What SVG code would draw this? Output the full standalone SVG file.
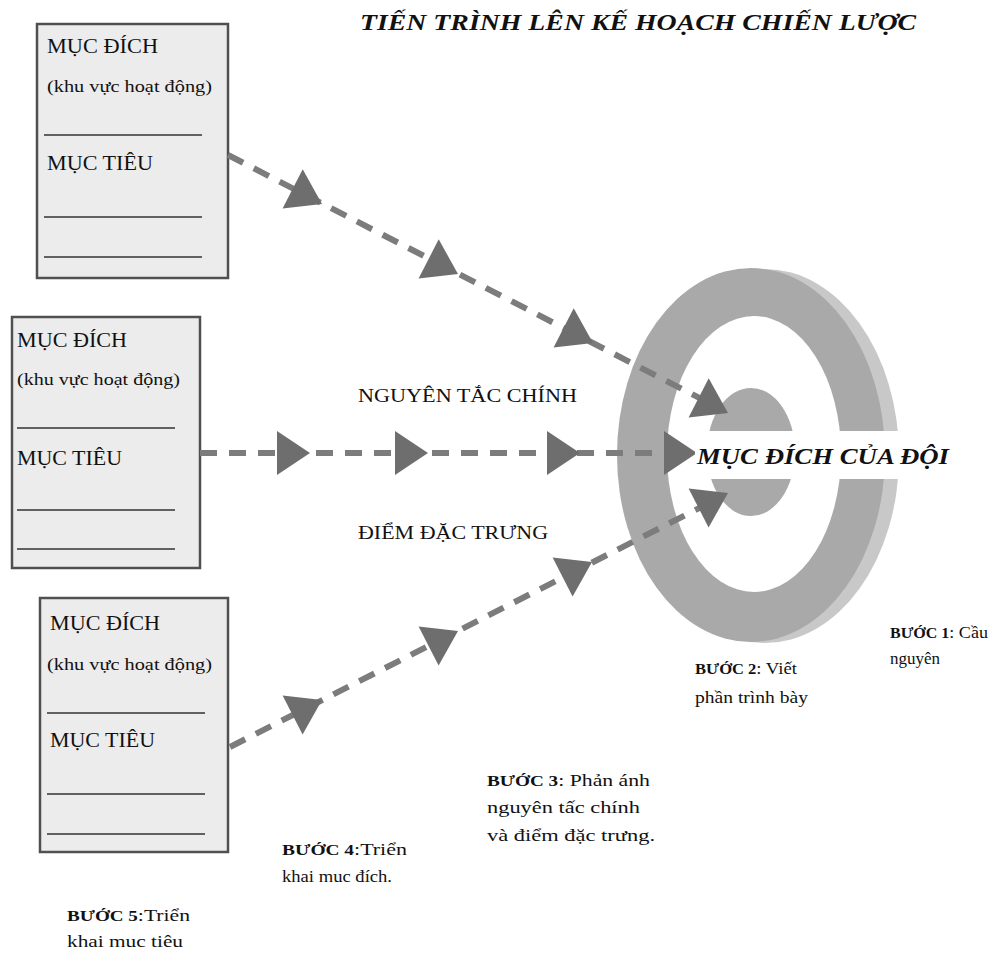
<svg xmlns="http://www.w3.org/2000/svg" xmlns:xlink="http://www.w3.org/1999/xlink" width="994" height="956" viewBox="0 0 994 956">
<style>
.box{fill:#ececec;stroke:#505050;stroke-width:2.5}
.sep{stroke:#333;stroke-width:1.5}
.bt{font-family:"Liberation Serif","DejaVu Serif",serif;fill:#111}
.big{font-size:20px}
.sm{font-size:16px}
.lbl{font-family:"Liberation Serif","DejaVu Serif",serif;font-size:18px;fill:#111}
.step{font-family:"Liberation Serif","DejaVu Serif",serif;font-size:17px;fill:#111}
.stepb{font-weight:bold;font-size:15px}
.conn{stroke:#7c7c7c;stroke-width:6;stroke-dasharray:17 12;fill:none}
.ah{fill:#6e6e6e}
.title{font-family:"Liberation Serif","DejaVu Serif",serif;font-weight:bold;font-style:italic;font-size:24px;fill:#111}
</style>
<defs>
<path id="ah" d="M0,0 L-33,-22 L-33,22 Z"/>
</defs>
<rect width="994" height="956" fill="#fff"/>
<text class="title" x="360" y="30" textLength="556" lengthAdjust="spacingAndGlyphs">TIẾN TRÌNH LÊN KẾ HOẠCH CHIẾN LƯỢC</text>

<g id="target">
<ellipse cx="765" cy="456" rx="134" ry="187" fill="#c8c8c8"/>
<ellipse cx="751" cy="455" rx="134" ry="187" fill="#a9a9a9"/>
<ellipse cx="754" cy="454" rx="87" ry="138" fill="#fff"/>
<ellipse cx="751" cy="452" rx="44" ry="64" fill="#a9a9a9"/>
</g>

<g id="box1">
<rect class="box" x="37" y="24" width="191" height="254"/>
<text class="bt big" x="47" y="53" textLength="111" lengthAdjust="spacingAndGlyphs">MỤC ĐÍCH</text>
<text class="bt sm" x="47" y="92" textLength="165" lengthAdjust="spacingAndGlyphs">(khu vực hoạt động)</text>
<line class="sep" x1="44" y1="135" x2="202" y2="135"/>
<text class="bt big" x="47" y="170" textLength="106" lengthAdjust="spacingAndGlyphs">MỤC TIÊU</text>
<line class="sep" x1="44" y1="217" x2="202" y2="217"/>
<line class="sep" x1="44" y1="257" x2="202" y2="257"/>
</g>

<g id="box2">
<rect class="box" x="12" y="317" width="188" height="251"/>
<text class="bt big" x="17" y="347" textLength="110" lengthAdjust="spacingAndGlyphs">MỤC ĐÍCH</text>
<text class="bt sm" x="17" y="385" textLength="163" lengthAdjust="spacingAndGlyphs">(khu vực hoạt động)</text>
<line class="sep" x1="17" y1="428" x2="175" y2="428"/>
<text class="bt big" x="17" y="465" textLength="105" lengthAdjust="spacingAndGlyphs">MỤC TIÊU</text>
<line class="sep" x1="17" y1="510" x2="175" y2="510"/>
<line class="sep" x1="17" y1="549" x2="175" y2="549"/>
</g>

<g id="box3">
<rect class="box" x="40" y="598" width="188" height="254"/>
<text class="bt big" x="50" y="630" textLength="110" lengthAdjust="spacingAndGlyphs">MỤC ĐÍCH</text>
<text class="bt sm" x="47" y="670" textLength="165" lengthAdjust="spacingAndGlyphs">(khu vực hoạt động)</text>
<line class="sep" x1="47" y1="713" x2="205" y2="713"/>
<text class="bt big" x="50" y="747" textLength="105" lengthAdjust="spacingAndGlyphs">MỤC TIÊU</text>
<line class="sep" x1="47" y1="794" x2="205" y2="794"/>
<line class="sep" x1="47" y1="834" x2="205" y2="834"/>
</g>

<g id="connectors">
<line class="conn" x1="228" y1="155" x2="715" y2="406"/>
<use xlink:href="#ah" href="#ah" class="ah" transform="translate(322,204) rotate(27.2)"/>
<use xlink:href="#ah" href="#ah" class="ah" transform="translate(458,274) rotate(27.2)"/>
<use xlink:href="#ah" href="#ah" class="ah" transform="translate(593,343) rotate(27.2)"/>
<use xlink:href="#ah" href="#ah" class="ah" transform="translate(728,413) rotate(27.2)"/>

<line class="conn" x1="200" y1="453" x2="680" y2="453"/>
<use xlink:href="#ah" href="#ah" class="ah" transform="translate(310,453)"/>
<use xlink:href="#ah" href="#ah" class="ah" transform="translate(428,453)"/>
<use xlink:href="#ah" href="#ah" class="ah" transform="translate(580,453)"/>
<use xlink:href="#ah" href="#ah" class="ah" transform="translate(697,453)"/>

<line class="conn" x1="230" y1="747" x2="715" y2="500"/>
<use xlink:href="#ah" href="#ah" class="ah" transform="translate(322,700) rotate(-27)"/>
<use xlink:href="#ah" href="#ah" class="ah" transform="translate(458,631) rotate(-27)"/>
<use xlink:href="#ah" href="#ah" class="ah" transform="translate(592,562) rotate(-27)"/>
<use xlink:href="#ah" href="#ah" class="ah" transform="translate(728,493) rotate(-27)"/>
</g>

<g id="goal">
<rect x="695" y="431" width="295" height="48" fill="#fff"/>
<text class="title" x="697" y="464" font-size="28" textLength="252" lengthAdjust="spacingAndGlyphs">MỤC ĐÍCH CỦA ĐỘI</text>
</g>

<text class="lbl" x="358" y="402" textLength="219" lengthAdjust="spacingAndGlyphs">NGUYÊN TẮC CHÍNH</text>
<text class="lbl" x="358" y="539" textLength="190" lengthAdjust="spacingAndGlyphs">ĐIỂM ĐẶC TRƯNG</text>

<g id="step1" class="step">
<text x="890" y="638" textLength="98" lengthAdjust="spacingAndGlyphs"><tspan class="stepb">BƯỚC 1</tspan>: Cầu</text>
<text x="890" y="664" textLength="50" lengthAdjust="spacingAndGlyphs">nguyên</text>
</g>
<g id="step2" class="step">
<text x="695" y="674" textLength="102" lengthAdjust="spacingAndGlyphs"><tspan class="stepb">BƯỚC  2</tspan>: Viết</text>
<text x="695" y="703" textLength="113" lengthAdjust="spacingAndGlyphs">phần trình bày</text>
</g>
<g id="step3" class="step">
<text x="487" y="786" textLength="163" lengthAdjust="spacingAndGlyphs"><tspan class="stepb">BƯỚC 3</tspan>: Phản ánh</text>
<text x="487" y="813" textLength="153" lengthAdjust="spacingAndGlyphs">nguyên tấc chính</text>
<text x="487" y="841" textLength="168" lengthAdjust="spacingAndGlyphs">và điểm đặc trưng.</text>
</g>
<g id="step4" class="step">
<text x="282" y="855" textLength="125" lengthAdjust="spacingAndGlyphs"><tspan class="stepb">BƯỚC 4</tspan>:Triển</text>
<text x="282" y="882" textLength="110" lengthAdjust="spacingAndGlyphs">khai muc đích.</text>
</g>
<g id="step5" class="step">
<text x="67" y="921" textLength="123" lengthAdjust="spacingAndGlyphs"><tspan class="stepb">BƯỚC 5</tspan>:Triển</text>
<text x="67" y="947" textLength="116" lengthAdjust="spacingAndGlyphs">khai muc tiêu</text>
</g>
</svg>
